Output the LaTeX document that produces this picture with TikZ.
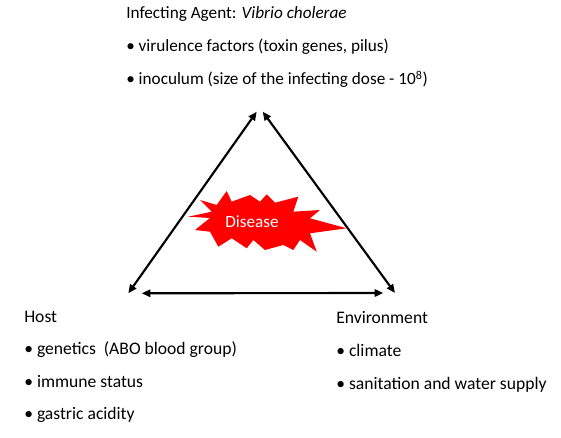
\documentclass[tikz,border=0pt]{standalone}
\usepackage{fontspec}
\setmainfont{Carlito}
\usetikzlibrary{arrows.meta}
\begin{document}
\begin{tikzpicture}[
  x=0.75pt,
  y=-0.75pt,
  inner sep=0pt,
  every node/.style={anchor=base west,font=\fontsize{13.2}{16}\selectfont},
  top/.style={font=\fontsize{12.9}{16}\selectfont},
  link/.style={line width=1.6pt,
    {Triangle[length=6.5pt,width=5.5pt]}-{Triangle[length=6.5pt,width=5.5pt]}}
  ]
\useasboundingbox (0,0) rectangle (561,438);
\fill[red] (200,200) -- (216.7,205) -- (226.7,191) -- (231.7,201.7)
  -- (250,195) -- (260,201.7) -- (266.7,194.3) -- (275,202.7)
  -- (298.3,196.7) -- (293.3,211.7) -- (320,210) -- (310,218.3)
  -- (346.7,228.3) -- (310,233.3) -- (316.7,251.7) -- (300,240)
  -- (293.3,250) -- (283.3,245) -- (265,250) -- (253.3,240)
  -- (246.7,248.3) -- (231.7,238.3) -- (218.3,246.7) -- (210,231.7)
  -- (195,230) -- (210,218) -- (188.3,216.7) -- (211.7,211.7) -- cycle;
\node[top,anchor=center,text=white] (disease) at (252,222) {Disease};
\coordinate (agentL) at (256.7,111.7);
\coordinate (agentR) at (262.7,111.7);
\coordinate (hostT) at (128.3,293.3);
\coordinate (hostR) at (141.7,293.3);
\coordinate (envT) at (395,293);
\coordinate (envL) at (383.3,293);
\draw[link] (hostT) -- (agentL);
\draw[link] (agentR) -- (envT);
\draw[link] (hostR) -- (envL);
\draw
  (126,18.3) node[top] (agent) {Infecting Agent: \textit{Vibrio cholerae}}
  (126,51.7) node[top] (virulence) {\textbullet\ virulence factors (toxin genes, pilus)}
  (126,85) node[top] (inoculum) {\textbullet\ inoculum (size of the infecting dose - 10\textsuperscript{8})}
  (24,322.7) node (host) {Host}
  (24,355) node (genetics) {\textbullet\ genetics\ \ (ABO blood group)}
  (24,387.3) node (immune) {\textbullet\ immune status}
  (24,419.3) node (gastric) {\textbullet\ gastric acidity}
  (336,323.3) node (environment) {Environment}
  (336,356.7) node (climate) {\textbullet\ climate}
  (336,389.3) node (sanitation) {\textbullet\ sanitation and water supply}
  ;
\end{tikzpicture}
\end{document}
